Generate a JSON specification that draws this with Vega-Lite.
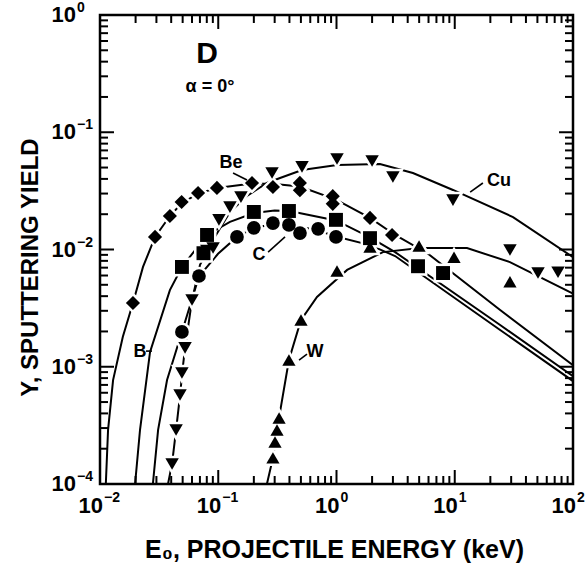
{
  "$schema": "https://vega.github.io/schema/vega-lite/v6.json",
  "width": 473,
  "height": 469,
  "autosize": "none",
  "padding": {"left": 100, "top": 15, "right": 14, "bottom": 86},
  "background": "white",
  "config": {
    "view": {"stroke": "black", "strokeWidth": 2.5},
    "font": "Liberation Sans",
    "axis": {"domain": false, "labels": false, "ticks": false, "grid": false, "titleColor": "black", "titleFont": "Liberation Sans", "titleFontWeight": "bold"}
  },
  "datasets": {
    "curves": [
      {"s": "Be", "x": 0.0112, "y": 0.0001}, {"s": "Be", "x": 0.0117, "y": 0.00029}, {"s": "Be", "x": 0.0129, "y": 0.00077}, {"s": "Be", "x": 0.0156, "y": 0.0018}, {"s": "Be", "x": 0.019, "y": 0.0035}, {"s": "Be", "x": 0.0231, "y": 0.0071}, {"s": "Be", "x": 0.0292, "y": 0.0128}, {"s": "Be", "x": 0.039, "y": 0.0193}, {"s": "Be", "x": 0.049, "y": 0.0248}, {"s": "Be", "x": 0.0675, "y": 0.03}, {"s": "Be", "x": 0.0975, "y": 0.0335}, {"s": "Be", "x": 0.193, "y": 0.0365}, {"s": "Be", "x": 0.3, "y": 0.0362}, {"s": "Be", "x": 0.49, "y": 0.0345}, {"s": "Be", "x": 0.99, "y": 0.0266}, {"s": "Be", "x": 1.92, "y": 0.0186}, {"s": "Be", "x": 3.13, "y": 0.0133}, {"s": "Be", "x": 5.94, "y": 0.0092}, {"s": "Be", "x": 24.2, "y": 0.00305}, {"s": "Be", "x": 100, "y": 0.00103},
      {"s": "B", "x": 0.0198, "y": 0.0001}, {"s": "B", "x": 0.0218, "y": 0.00029}, {"s": "B", "x": 0.0265, "y": 0.00134}, {"s": "B", "x": 0.039, "y": 0.0045}, {"s": "B", "x": 0.0493, "y": 0.0071}, {"s": "B", "x": 0.0804, "y": 0.0133}, {"s": "B", "x": 0.1256, "y": 0.0172}, {"s": "B", "x": 0.2, "y": 0.0205}, {"s": "B", "x": 0.3, "y": 0.0215}, {"s": "B", "x": 0.4, "y": 0.0213}, {"s": "B", "x": 0.99, "y": 0.0177}, {"s": "B", "x": 1.92, "y": 0.0127}, {"s": "B", "x": 3.13, "y": 0.0095}, {"s": "B", "x": 24.2, "y": 0.00227}, {"s": "B", "x": 100, "y": 0.00083},
      {"s": "C", "x": 0.028, "y": 0.0001}, {"s": "C", "x": 0.031, "y": 0.00029}, {"s": "C", "x": 0.0369, "y": 0.00077}, {"s": "C", "x": 0.0493, "y": 0.00198}, {"s": "C", "x": 0.0687, "y": 0.0059}, {"s": "C", "x": 0.0996, "y": 0.0092}, {"s": "C", "x": 0.144, "y": 0.0128}, {"s": "C", "x": 0.2, "y": 0.0152}, {"s": "C", "x": 0.29, "y": 0.0165}, {"s": "C", "x": 0.4, "y": 0.0163}, {"s": "C", "x": 0.7, "y": 0.0145}, {"s": "C", "x": 0.99, "y": 0.0129}, {"s": "C", "x": 1.92, "y": 0.0109}, {"s": "C", "x": 3.13, "y": 0.0088}, {"s": "C", "x": 24.2, "y": 0.00206}, {"s": "C", "x": 100, "y": 0.000755},
      {"s": "Cu", "x": 0.0376, "y": 0.0001}, {"s": "Cu", "x": 0.0407, "y": 0.00015}, {"s": "Cu", "x": 0.044, "y": 0.00029}, {"s": "Cu", "x": 0.0475, "y": 0.00057}, {"s": "Cu", "x": 0.0502, "y": 0.001}, {"s": "Cu", "x": 0.0524, "y": 0.00145}, {"s": "Cu", "x": 0.06, "y": 0.0037}, {"s": "Cu", "x": 0.0701, "y": 0.0074}, {"s": "Cu", "x": 0.09, "y": 0.012}, {"s": "Cu", "x": 0.1256, "y": 0.0209}, {"s": "Cu", "x": 0.175, "y": 0.0286}, {"s": "Cu", "x": 0.258, "y": 0.0369}, {"s": "Cu", "x": 0.333, "y": 0.0407}, {"s": "Cu", "x": 0.511, "y": 0.0477}, {"s": "Cu", "x": 1.01, "y": 0.0526}, {"s": "Cu", "x": 2.33, "y": 0.0536}, {"s": "Cu", "x": 4.43, "y": 0.0449}, {"s": "Cu", "x": 9.66, "y": 0.0322}, {"s": "Cu", "x": 31.1, "y": 0.0189}, {"s": "Cu", "x": 100, "y": 0.0086},
      {"s": "W", "x": 0.258, "y": 0.0001}, {"s": "W", "x": 0.29, "y": 0.000167}, {"s": "W", "x": 0.327, "y": 0.00037}, {"s": "W", "x": 0.396, "y": 0.00114}, {"s": "W", "x": 0.5, "y": 0.0025}, {"s": "W", "x": 0.684, "y": 0.00394}, {"s": "W", "x": 1.23, "y": 0.0067}, {"s": "W", "x": 2.47, "y": 0.0095}, {"s": "W", "x": 5.08, "y": 0.0103}, {"s": "W", "x": 12.7, "y": 0.0103}, {"s": "W", "x": 29.3, "y": 0.0078}, {"s": "W", "x": 100, "y": 0.0042}
    ],
    "markers": [
      {"s": "Be", "x": 0.019, "y": 0.0035}, {"s": "Be", "x": 0.0292, "y": 0.0128}, {"s": "Be", "x": 0.039, "y": 0.0193}, {"s": "Be", "x": 0.049, "y": 0.0254}, {"s": "Be", "x": 0.0675, "y": 0.0303}, {"s": "Be", "x": 0.0975, "y": 0.0335}, {"s": "Be", "x": 0.193, "y": 0.0369}, {"s": "Be", "x": 0.29, "y": 0.0341}, {"s": "Be", "x": 0.49, "y": 0.037}, {"s": "Be", "x": 0.49, "y": 0.032}, {"s": "Be", "x": 0.93, "y": 0.0285}, {"s": "Be", "x": 0.93, "y": 0.0245}, {"s": "Be", "x": 1.92, "y": 0.0186}, {"s": "Be", "x": 2.95, "y": 0.0133},
      {"s": "B", "x": 0.0493, "y": 0.0071}, {"s": "B", "x": 0.075, "y": 0.0093}, {"s": "B", "x": 0.0804, "y": 0.0133}, {"s": "B", "x": 0.2, "y": 0.0209}, {"s": "B", "x": 0.396, "y": 0.0213}, {"s": "B", "x": 0.99, "y": 0.0179}, {"s": "B", "x": 1.92, "y": 0.0125}, {"s": "B", "x": 4.89, "y": 0.0072}, {"s": "B", "x": 7.96, "y": 0.0063},
      {"s": "C", "x": 0.0493, "y": 0.00198}, {"s": "C", "x": 0.0687, "y": 0.00594}, {"s": "C", "x": 0.144, "y": 0.0128}, {"s": "C", "x": 0.2, "y": 0.0153}, {"s": "C", "x": 0.29, "y": 0.0168}, {"s": "C", "x": 0.396, "y": 0.0162}, {"s": "C", "x": 0.491, "y": 0.0138}, {"s": "C", "x": 0.699, "y": 0.015}, {"s": "C", "x": 0.99, "y": 0.0128},
      {"s": "Cu", "x": 0.0407, "y": 0.000148}, {"s": "Cu", "x": 0.044, "y": 0.000289}, {"s": "Cu", "x": 0.0475, "y": 0.000574}, {"s": "Cu", "x": 0.0493, "y": 0.000885}, {"s": "Cu", "x": 0.0524, "y": 0.00145}, {"s": "Cu", "x": 0.06, "y": 0.00371}, {"s": "Cu", "x": 0.08, "y": 0.0098}, {"s": "Cu", "x": 0.0904, "y": 0.0103}, {"s": "Cu", "x": 0.1014, "y": 0.0179}, {"s": "Cu", "x": 0.1256, "y": 0.023}, {"s": "Cu", "x": 0.1556, "y": 0.028}, {"s": "Cu", "x": 0.285, "y": 0.0449}, {"s": "Cu", "x": 0.511, "y": 0.0506}, {"s": "Cu", "x": 1.01, "y": 0.0591}, {"s": "Cu", "x": 2.0, "y": 0.0569}, {"s": "Cu", "x": 3.0, "y": 0.0415}, {"s": "Cu", "x": 9.66, "y": 0.0264}, {"s": "Cu", "x": 29.3, "y": 0.0099}, {"s": "Cu", "x": 50.6, "y": 0.0063}, {"s": "Cu", "x": 74.7, "y": 0.0064},
      {"s": "W", "x": 0.29, "y": 0.000167}, {"s": "W", "x": 0.302, "y": 0.000228}, {"s": "W", "x": 0.314, "y": 0.000289}, {"s": "W", "x": 0.327, "y": 0.000366}, {"s": "W", "x": 0.396, "y": 0.00114}, {"s": "W", "x": 0.501, "y": 0.0025}, {"s": "W", "x": 1.01, "y": 0.00656}, {"s": "W", "x": 1.92, "y": 0.0105}, {"s": "W", "x": 4.99, "y": 0.0107}, {"s": "W", "x": 9.86, "y": 0.0086}, {"s": "W", "x": 29.3, "y": 0.0053}
    ],
    "leaders": [
      {"s": "Be", "x": 0.1334, "y": 0.0449, "x2": 0.175, "y2": 0.0391},
      {"s": "C", "x": 0.264, "y": 0.0095, "x2": 0.367, "y2": 0.0128},
      {"s": "B", "x": 0.0245, "y": 0.00136, "x2": 0.0275, "y2": 0.00136},
      {"s": "W", "x": 0.482, "y": 0.00114, "x2": 0.563, "y2": 0.00128},
      {"s": "Cu", "x": 13.5, "y": 0.0309, "x2": 17.3, "y2": 0.0369}
    ],
    "names": [
      {"t": "Be", "x": 0.128, "y": 0.0547},
      {"t": "C", "x": 0.221, "y": 0.00897},
      {"t": "B", "x": 0.0218, "y": 0.00134},
      {"t": "W", "x": 0.658, "y": 0.00134},
      {"t": "Cu", "x": 23.7, "y": 0.0384}
    ],
    "panel": [{"t": "D", "x": 0.0804, "y": 0.465}],
    "angle": [{"t": "α = 0°", "x": 0.0851, "y": 0.243}],
    "xlab": [{"v": 0.01, "e": "−2"}, {"v": 0.1, "e": "−1"}, {"v": 1, "e": "0"}, {"v": 10, "e": "1"}, {"v": 100, "e": "2"}],
    "ylab": [{"v": 0.0001, "e": "−4"}, {"v": 0.001, "e": "−3"}, {"v": 0.01, "e": "−2"}, {"v": 0.1, "e": "−1"}, {"v": 1, "e": "0"}],
    "xmaj": [{"v": 0.01}, {"v": 0.1}, {"v": 1}, {"v": 10}, {"v": 100}],
    "xmin": [{"v": 0.02}, {"v": 0.03}, {"v": 0.04}, {"v": 0.05}, {"v": 0.06}, {"v": 0.07}, {"v": 0.08}, {"v": 0.09}, {"v": 0.2}, {"v": 0.3}, {"v": 0.4}, {"v": 0.5}, {"v": 0.6}, {"v": 0.7}, {"v": 0.8}, {"v": 0.9}, {"v": 2}, {"v": 3}, {"v": 4}, {"v": 5}, {"v": 6}, {"v": 7}, {"v": 8}, {"v": 9}, {"v": 20}, {"v": 30}, {"v": 40}, {"v": 50}, {"v": 60}, {"v": 70}, {"v": 80}, {"v": 90}],
    "ymaj": [{"v": 0.0001}, {"v": 0.001}, {"v": 0.01}, {"v": 0.1}, {"v": 1}],
    "ymin": [{"v": 0.0002}, {"v": 0.0003}, {"v": 0.0004}, {"v": 0.0005}, {"v": 0.0006}, {"v": 0.0007}, {"v": 0.0008}, {"v": 0.0009}, {"v": 0.002}, {"v": 0.003}, {"v": 0.004}, {"v": 0.005}, {"v": 0.006}, {"v": 0.007}, {"v": 0.008}, {"v": 0.009}, {"v": 0.02}, {"v": 0.03}, {"v": 0.04}, {"v": 0.05}, {"v": 0.06}, {"v": 0.07}, {"v": 0.08}, {"v": 0.09}, {"v": 0.2}, {"v": 0.3}, {"v": 0.4}, {"v": 0.5}, {"v": 0.6}, {"v": 0.7}, {"v": 0.8}, {"v": 0.9}]
  },
  "layer": [
    {
      "data": {"name": "curves"},
      "mark": {"type": "line", "color": "black", "strokeWidth": 2, "clip": true},
      "encoding": {
        "x": {"field": "x", "type": "quantitative", "scale": {"type": "log", "domain": [0.01, 100]},
          "axis": {"orient": "bottom", "values": [0.01, 0.1, 1, 10, 100],
            "title": "E₀, PROJECTILE ENERGY (keV)", "titleFontSize": 25, "titleX": 234, "titleY": 73, "titleAngle": 0, "titleBaseline": "alphabetic", "titleAlign": "center", "titleAnchor": null}},
        "y": {"field": "y", "type": "quantitative", "scale": {"type": "log", "domain": [0.0001, 1]},
          "axis": {"orient": "left", "values": [0.0001, 0.001, 0.01, 0.1, 1],
            "title": "Y, SPUTTERING YIELD", "titleFontSize": 24, "titleX": -63, "titleY": 252, "titleAngle": -90, "titleBaseline": "alphabetic", "titleAlign": "center", "titleAnchor": null}},
        "detail": {"field": "s"}
      }
    },
    {
      "data": {"name": "markers"},
      "mark": {"type": "point", "filled": true, "fill": "white", "stroke": "white", "strokeWidth": 5, "opacity": 1},
      "encoding": {
        "x": {"field": "x", "type": "quantitative", "scale": {"type": "log", "domain": [0.01, 100]}, "axis": null},
        "y": {"field": "y", "type": "quantitative", "scale": {"type": "log", "domain": [0.0001, 1]}, "axis": null},
        "shape": {"field": "s", "type": "nominal", "scale": {"domain": ["Be", "B", "C", "Cu", "W"], "range": ["diamond", "square", "circle", "triangle-down", "triangle-up"]}, "legend": null},
        "size": {"field": "s", "type": "nominal", "scale": {"domain": ["Be", "B", "C", "Cu", "W"], "range": [200, 175, 160, 280, 200]}, "legend": null}
      }
    },
    {
      "data": {"name": "markers"},
      "mark": {"type": "point", "filled": true, "color": "black", "opacity": 1},
      "encoding": {
        "x": {"field": "x", "type": "quantitative", "scale": {"type": "log", "domain": [0.01, 100]}, "axis": null},
        "y": {"field": "y", "type": "quantitative", "scale": {"type": "log", "domain": [0.0001, 1]}, "axis": null},
        "shape": {"field": "s", "type": "nominal", "legend": null},
        "size": {"field": "s", "type": "nominal", "legend": null}
      }
    },
    {
      "data": {"name": "leaders"},
      "mark": {"type": "rule", "color": "black", "strokeWidth": 1.6},
      "encoding": {
        "x": {"field": "x", "type": "quantitative", "scale": {"type": "log", "domain": [0.01, 100]}, "axis": null},
        "y": {"field": "y", "type": "quantitative", "scale": {"type": "log", "domain": [0.0001, 1]}, "axis": null},
        "x2": {"field": "x2"},
        "y2": {"field": "y2"}
      }
    },
    {
      "data": {"name": "names"},
      "mark": {"type": "text", "font": "Liberation Sans", "fontSize": 18, "fontWeight": "bold", "color": "black", "align": "center", "baseline": "middle"},
      "encoding": {
        "x": {"field": "x", "type": "quantitative", "scale": {"type": "log", "domain": [0.01, 100]}, "axis": null},
        "y": {"field": "y", "type": "quantitative", "scale": {"type": "log", "domain": [0.0001, 1]}, "axis": null},
        "text": {"field": "t"}
      }
    },
    {
      "data": {"name": "panel"},
      "mark": {"type": "text", "font": "Liberation Sans", "fontSize": 30, "fontWeight": "bold", "color": "black", "align": "center", "baseline": "middle"},
      "encoding": {
        "x": {"field": "x", "type": "quantitative", "scale": {"type": "log", "domain": [0.01, 100]}, "axis": null},
        "y": {"field": "y", "type": "quantitative", "scale": {"type": "log", "domain": [0.0001, 1]}, "axis": null},
        "text": {"field": "t"}
      }
    },
    {
      "data": {"name": "angle"},
      "mark": {"type": "text", "font": "Liberation Sans", "fontSize": 18, "fontWeight": "bold", "color": "black", "align": "center", "baseline": "middle"},
      "encoding": {
        "x": {"field": "x", "type": "quantitative", "scale": {"type": "log", "domain": [0.01, 100]}, "axis": null},
        "y": {"field": "y", "type": "quantitative", "scale": {"type": "log", "domain": [0.0001, 1]}, "axis": null},
        "text": {"field": "t"}
      }
    },
    {
      "data": {"name": "xlab"},
      "mark": {"type": "text", "font": "Liberation Sans", "fontSize": 22, "fontWeight": "bold", "color": "black", "align": "right", "baseline": "middle", "dx": 3, "dy": 22},
      "encoding": {
        "x": {"field": "v", "type": "quantitative", "scale": {"type": "log", "domain": [0.01, 100]}, "axis": null},
        "y": {"datum": 0.0001, "type": "quantitative", "scale": {"type": "log", "domain": [0.0001, 1]}, "axis": null},
        "text": {"value": "10"}
      }
    },
    {
      "data": {"name": "xlab"},
      "mark": {"type": "text", "font": "Liberation Sans", "fontSize": 14, "fontWeight": "bold", "color": "black", "align": "left", "baseline": "middle", "dx": 4, "dy": 14},
      "encoding": {
        "x": {"field": "v", "type": "quantitative", "scale": {"type": "log", "domain": [0.01, 100]}, "axis": null},
        "y": {"datum": 0.0001, "type": "quantitative", "scale": {"type": "log", "domain": [0.0001, 1]}, "axis": null},
        "text": {"field": "e"}
      }
    },
    {
      "data": {"name": "ylab"},
      "mark": {"type": "text", "font": "Liberation Sans", "fontSize": 22, "fontWeight": "bold", "color": "black", "align": "right", "baseline": "middle", "dx": -24, "dy": 0},
      "encoding": {
        "x": {"datum": 0.01, "type": "quantitative", "scale": {"type": "log", "domain": [0.01, 100]}, "axis": null},
        "y": {"field": "v", "type": "quantitative", "scale": {"type": "log", "domain": [0.0001, 1]}, "axis": null},
        "text": {"value": "10"}
      }
    },
    {
      "data": {"name": "ylab"},
      "mark": {"type": "text", "font": "Liberation Sans", "fontSize": 14, "fontWeight": "bold", "color": "black", "align": "left", "baseline": "middle", "dx": -23, "dy": -7},
      "encoding": {
        "x": {"datum": 0.01, "type": "quantitative", "scale": {"type": "log", "domain": [0.01, 100]}, "axis": null},
        "y": {"field": "v", "type": "quantitative", "scale": {"type": "log", "domain": [0.0001, 1]}, "axis": null},
        "text": {"field": "e"}
      }
    },
    {
      "data": {"name": "xmaj"},
      "mark": {"type": "rule", "color": "black", "strokeWidth": 2},
      "encoding": {
        "x": {"field": "v", "type": "quantitative", "scale": {"type": "log", "domain": [0.01, 100]}, "axis": null},
        "y": {"datum": 0.0001, "type": "quantitative", "scale": {"type": "log", "domain": [0.0001, 1]}, "axis": null},
        "y2": {"datum": 0.0001316}
      }
    },
    {
      "data": {"name": "xmaj"},
      "mark": {"type": "rule", "color": "black", "strokeWidth": 2},
      "encoding": {
        "x": {"field": "v", "type": "quantitative", "scale": {"type": "log", "domain": [0.01, 100]}, "axis": null},
        "y": {"datum": 1, "type": "quantitative", "scale": {"type": "log", "domain": [0.0001, 1]}, "axis": null},
        "y2": {"datum": 0.76}
      }
    },
    {
      "data": {"name": "xmin"},
      "mark": {"type": "rule", "color": "black", "strokeWidth": 2},
      "encoding": {
        "x": {"field": "v", "type": "quantitative", "scale": {"type": "log", "domain": [0.01, 100]}, "axis": null},
        "y": {"datum": 0.0001, "type": "quantitative", "scale": {"type": "log", "domain": [0.0001, 1]}, "axis": null},
        "y2": {"datum": 0.000117}
      }
    },
    {
      "data": {"name": "xmin"},
      "mark": {"type": "rule", "color": "black", "strokeWidth": 2},
      "encoding": {
        "x": {"field": "v", "type": "quantitative", "scale": {"type": "log", "domain": [0.01, 100]}, "axis": null},
        "y": {"datum": 1, "type": "quantitative", "scale": {"type": "log", "domain": [0.0001, 1]}, "axis": null},
        "y2": {"datum": 0.855}
      }
    },
    {
      "data": {"name": "ymaj"},
      "mark": {"type": "rule", "color": "black", "strokeWidth": 2},
      "encoding": {
        "x": {"datum": 0.01, "type": "quantitative", "scale": {"type": "log", "domain": [0.01, 100]}, "axis": null},
        "x2": {"datum": 0.01313},
        "y": {"field": "v", "type": "quantitative", "scale": {"type": "log", "domain": [0.0001, 1]}, "axis": null}
      }
    },
    {
      "data": {"name": "ymaj"},
      "mark": {"type": "rule", "color": "black", "strokeWidth": 2},
      "encoding": {
        "x": {"datum": 100, "type": "quantitative", "scale": {"type": "log", "domain": [0.01, 100]}, "axis": null},
        "x2": {"datum": 76.2},
        "y": {"field": "v", "type": "quantitative", "scale": {"type": "log", "domain": [0.0001, 1]}, "axis": null}
      }
    },
    {
      "data": {"name": "ymin"},
      "mark": {"type": "rule", "color": "black", "strokeWidth": 2},
      "encoding": {
        "x": {"datum": 0.01, "type": "quantitative", "scale": {"type": "log", "domain": [0.01, 100]}, "axis": null},
        "x2": {"datum": 0.01169},
        "y": {"field": "v", "type": "quantitative", "scale": {"type": "log", "domain": [0.0001, 1]}, "axis": null}
      }
    },
    {
      "data": {"name": "ymin"},
      "mark": {"type": "rule", "color": "black", "strokeWidth": 2},
      "encoding": {
        "x": {"datum": 100, "type": "quantitative", "scale": {"type": "log", "domain": [0.01, 100]}, "axis": null},
        "x2": {"datum": 85.6},
        "y": {"field": "v", "type": "quantitative", "scale": {"type": "log", "domain": [0.0001, 1]}, "axis": null}
      }
    }
  ],
  "resolve": {"axis": {"x": "independent", "y": "independent"}}
}
